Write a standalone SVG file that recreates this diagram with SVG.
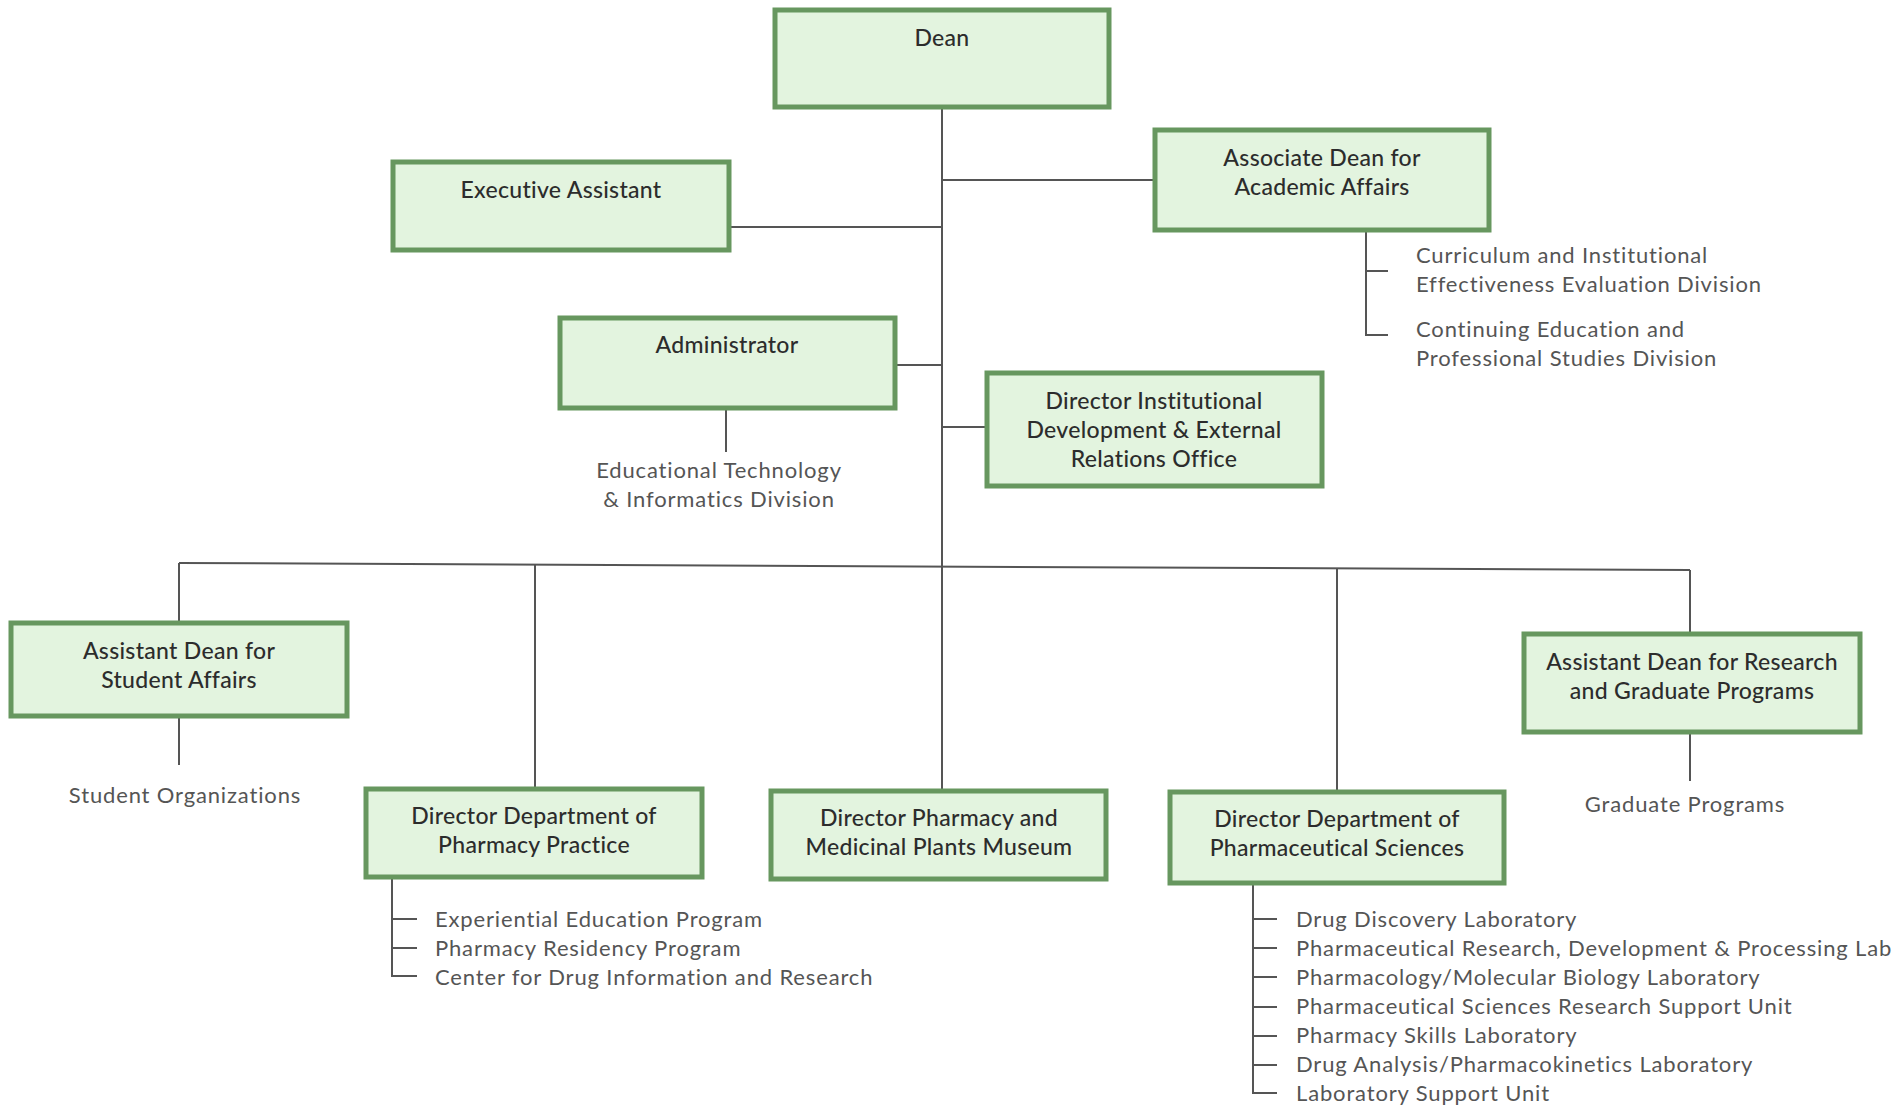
<svg xmlns="http://www.w3.org/2000/svg" width="1904" height="1109" viewBox="0 0 1904 1109">
<style>
.box{fill:#e3f4df;stroke:#67975f;stroke-width:5}
.bt{font-family:Lato,"Open Sans",sans-serif;font-size:23px;letter-spacing:0.3px;fill:#2c2c2c;text-anchor:middle;font-weight:500}
.st{font-family:Lato,"Open Sans",sans-serif;font-size:22px;letter-spacing:0.85px;fill:#555}
.c{text-anchor:middle}
.ln{stroke:#555;stroke-width:2;fill:none}
</style>
<rect width="1904" height="1109" fill="#fff"/>
<g id="connectors">
<path class="ln" d="M942 107 V791"/>
<path class="ln" d="M942 180 H1155"/>
<path class="ln" d="M729 227 H942"/>
<path class="ln" d="M895 365 H942"/>
<path class="ln" d="M942 427 H987"/>
<path class="ln" d="M179 563 L1690 570"/>
<path class="ln" d="M179 563 V622"/>
<path class="ln" d="M535 565 V788"/>
<path class="ln" d="M1337 568 V790"/>
<path class="ln" d="M1690 570 V633"/>
<path class="ln" d="M726 408 V452"/>
<path class="ln" d="M1366 230 V335 H1388 M1366 271 H1388"/>
<path class="ln" d="M179 716 V765"/>
<path class="ln" d="M1690 732 V781"/>
<path class="ln" d="M392 877 V976 H417 M392 919 H417 M392 948 H417"/>
<path class="ln" d="M1253 883 V1093 H1277 M1253 919 H1277 M1253 948 H1277 M1253 977 H1277 M1253 1007 H1277 M1253 1036 H1277 M1253 1065 H1277"/>
</g>
<g id="dean"><rect class="box" x="775" y="10" width="334" height="97"/><text class="bt" x="942" y="46">Dean</text></g>
<g id="assoc-dean"><rect class="box" x="1155" y="130" width="334" height="100"/><text class="bt" x="1322" y="166">Associate Dean for</text><text class="bt" x="1322" y="195">Academic Affairs</text></g>
<g id="assoc-dean-sub"><text class="st" x="1416" y="263">Curriculum and Institutional</text><text class="st" x="1416" y="292">Effectiveness Evaluation Division</text><text class="st" x="1416" y="337">Continuing Education and</text><text class="st" x="1416" y="366">Professional Studies Division</text></g>
<g id="exec-assistant"><rect class="box" x="393" y="162" width="336" height="88"/><text class="bt" x="561" y="198">Executive Assistant</text></g>
<g id="administrator"><rect class="box" x="560" y="318" width="335" height="90"/><text class="bt" x="727" y="353">Administrator</text></g>
<g id="admin-sub"><text class="st c" x="719" y="478">Educational Technology</text><text class="st c" x="719" y="507">&amp; Informatics Division</text></g>
<g id="dir-institutional"><rect class="box" x="987" y="373" width="335" height="113"/><text class="bt" x="1154" y="409">Director Institutional</text><text class="bt" x="1154" y="438">Development &amp; External</text><text class="bt" x="1154" y="467">Relations Office</text></g>
<g id="asst-dean-student"><rect class="box" x="11" y="623" width="336" height="93"/><text class="bt" x="179" y="659">Assistant Dean for</text><text class="bt" x="179" y="688">Student Affairs</text></g>
<g id="student-sub"><text class="st c" x="185" y="803">Student Organizations</text></g>
<g id="dir-pharmacy-practice"><rect class="box" x="366" y="789" width="336" height="88"/><text class="bt" x="534" y="824">Director Department of</text><text class="bt" x="534" y="853">Pharmacy Practice</text></g>
<g id="practice-sub"><text class="st" x="435" y="927">Experiential Education Program</text><text class="st" x="435" y="956">Pharmacy Residency Program</text><text class="st" x="435" y="985">Center for Drug Information and Research</text></g>
<g id="dir-museum"><rect class="box" x="771" y="791" width="335" height="88"/><text class="bt" x="939" y="826">Director Pharmacy and</text><text class="bt" x="939" y="855">Medicinal Plants Museum</text></g>
<g id="dir-pharm-sciences"><rect class="box" x="1170" y="792" width="334" height="91"/><text class="bt" x="1337" y="827">Director Department of</text><text class="bt" x="1337" y="856">Pharmaceutical Sciences</text></g>
<g id="sciences-sub"><text class="st" x="1296" y="927">Drug Discovery Laboratory</text><text class="st" x="1296" y="956">Pharmaceutical Research, Development &amp; Processing Lab</text><text class="st" x="1296" y="985">Pharmacology/Molecular Biology Laboratory</text><text class="st" x="1296" y="1014">Pharmaceutical Sciences Research Support Unit</text><text class="st" x="1296" y="1043">Pharmacy Skills Laboratory</text><text class="st" x="1296" y="1072">Drug Analysis/Pharmacokinetics Laboratory</text><text class="st" x="1296" y="1101">Laboratory Support Unit</text></g>
<g id="asst-dean-research"><rect class="box" x="1524" y="634" width="336" height="98"/><text class="bt" x="1692" y="670">Assistant Dean for Research</text><text class="bt" x="1692" y="699">and Graduate Programs</text></g>
<g id="research-sub"><text class="st c" x="1685" y="812">Graduate Programs</text></g>
</svg>
